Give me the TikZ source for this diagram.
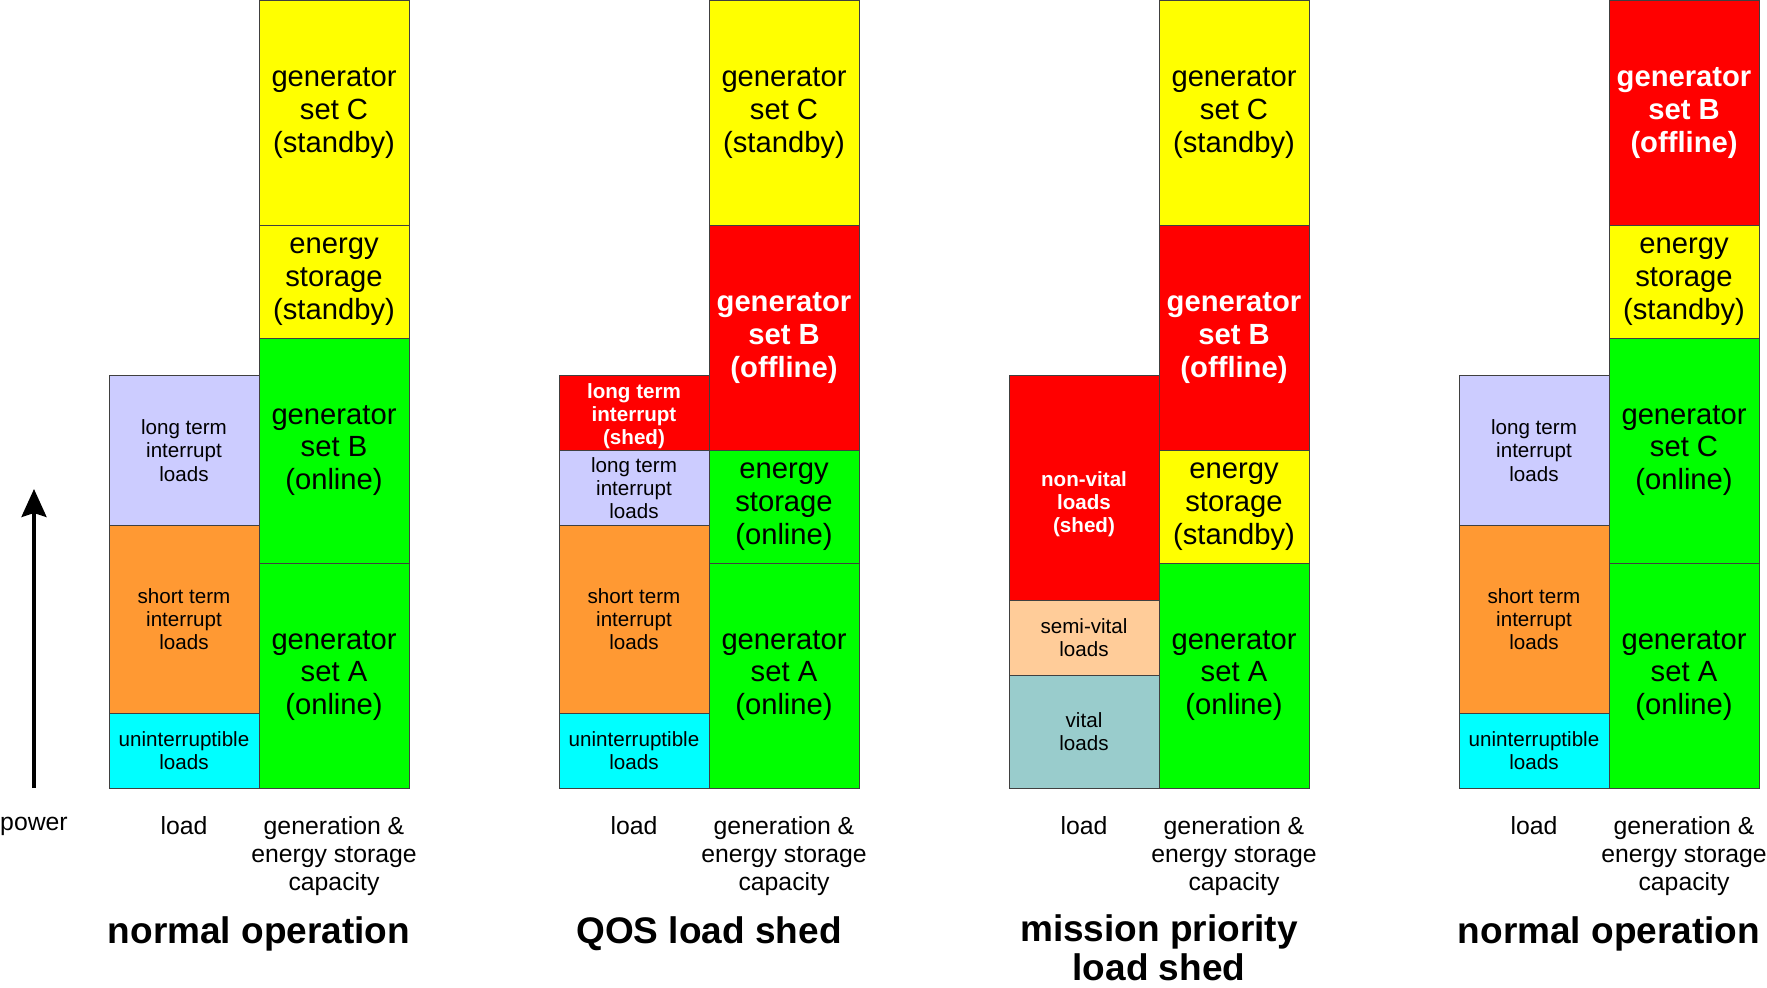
\documentclass[tikz,border=0pt]{standalone}
\usepackage{fontspec}
\setmainfont{Liberation Sans}
\usetikzlibrary{positioning,arrows.meta}

\definecolor{genon}{HTML}{00FF00}
\definecolor{stby}{HTML}{FFFF00}
\definecolor{offred}{HTML}{FF0000}
\definecolor{ltlav}{HTML}{CCCCFF}
\definecolor{storange}{HTML}{FF9933}
\definecolor{upscyan}{HTML}{00FFFF}
\definecolor{semipeach}{HTML}{FFCC99}
\definecolor{vitalteal}{HTML}{99CCCC}

\tikzset{
  blk/.style={draw=black!75, line width=0.5pt, minimum width=75pt,
    inner sep=0pt, outer sep=0pt, align=center},
  big/.style={blk, font=\fontsize{14.6}{16.3}\selectfont},
  sml/.style={blk, font=\fontsize{10.3}{11.6}\selectfont},
  bigoff/.style={blk, fill=offred, text=white, font=\fontsize{14.6}{16.3}\selectfont\bfseries},
  smloff/.style={blk, fill=offred, text=white, font=\fontsize{10.3}{11.4}\selectfont\bfseries},
  full/.style={minimum height=112.5pt},
  half/.style={minimum height=56.25pt},
  lbl/.style={align=center, inner sep=0pt, font=\fontsize{12.4}{13.8}\selectfont},
  ttl/.style={align=center, inner sep=0pt, font=\fontsize{18.5}{19.4}\selectfont\bfseries}
}

\begin{document}
\begin{tikzpicture}[x=0.5pt, y=-0.5pt]
  \useasboundingbox (0,0) rectangle (1767,987);

  % power axis
  \coordinate (pbot) at (34,788);
  \coordinate (ptop) at (34,489);
  \draw[line width=1.7pt, -{Stealth[length=14pt, width=12.5pt, inset=2pt]}] (pbot) -- (ptop);
  \node[lbl] (power) at (34,826) {power};

  % normal operation
  \node[sml, fill=upscyan, minimum height=37.5pt, anchor=south] (p1ups) at (184,788) {uninterruptible\\loads};
  \node[sml, fill=storange, minimum height=93.75pt, above=0pt of p1ups] (p1st) {short term\\interrupt\\loads};
  \node[sml, fill=ltlav, minimum height=75pt, above=0pt of p1st] (p1lt) {long term\\interrupt\\loads};
  \node[big, full, fill=genon, anchor=south] (p1gA) at (334,788) {generator\\set A\\(online)};
  \node[big, full, fill=genon, above=0pt of p1gA] (p1gB) {generator\\set B\\(online)};
  \node[big, half, fill=stby, above=0pt of p1gB] (p1es) {energy\\storage\\(standby)};
  \node[big, full, fill=stby, above=0pt of p1es] (p1gC) {generator\\set C\\(standby)};
  \node[lbl] (p1load) at (184,826) {load};
  \node[lbl] (p1cap) at (334,856) {generation \&\\energy storage\\capacity};
  \node[ttl] (p1ttl) at (259,934) {normal operation};

  % QOS load shed
  \node[sml, fill=upscyan, minimum height=37.5pt, anchor=south] (p2ups) at (634,788) {uninterruptible\\loads};
  \node[sml, fill=storange, minimum height=93.75pt, above=0pt of p2ups] (p2st) {short term\\interrupt\\loads};
  \node[sml, fill=ltlav, minimum height=37.5pt, above=0pt of p2st] (p2lt) {long term\\interrupt\\loads};
  \node[smloff, minimum height=37.5pt, above=0pt of p2lt] (p2shed) {};
  \node[smloff, draw=none, fill=none] (p2shedtxt) at ([yshift=-1.5pt]p2shed.center) {long term\\interrupt\\(shed)};
  \node[big, full, fill=genon, anchor=south] (p2gA) at (784,788) {generator\\set A\\(online)};
  \node[big, half, fill=genon, above=0pt of p2gA] (p2es) {energy\\storage\\(online)};
  \node[bigoff, full, above=0pt of p2es] (p2gB) {generator\\set B\\(offline)};
  \node[big, full, fill=stby, above=0pt of p2gB] (p2gC) {generator\\set C\\(standby)};
  \node[lbl] (p2load) at (634,826) {load};
  \node[lbl] (p2cap) at (784,856) {generation \&\\energy storage\\capacity};
  \node[ttl] (p2ttl) at (709,934) {QOS load shed};

  % mission priority load shed
  \node[sml, fill=vitalteal, half, anchor=south] (p3vit) at (1084,788) {vital\\loads};
  \node[sml, fill=semipeach, minimum height=37.5pt, above=0pt of p3vit] (p3semi) {semi-vital\\loads};
  \node[smloff, full, above=0pt of p3semi] (p3non) {};
  \node[smloff, draw=none, fill=none] (p3nontxt) at ([yshift=-8pt]p3non.center) {non-vital\\loads\\(shed)};
  \node[big, full, fill=genon, anchor=south] (p3gA) at (1234,788) {generator\\set A\\(online)};
  \node[big, half, fill=stby, above=0pt of p3gA] (p3es) {energy\\storage\\(standby)};
  \node[bigoff, full, above=0pt of p3es] (p3gB) {generator\\set B\\(offline)};
  \node[big, full, fill=stby, above=0pt of p3gB] (p3gC) {generator\\set C\\(standby)};
  \node[lbl] (p3load) at (1084,826) {load};
  \node[lbl] (p3cap) at (1234,856) {generation \&\\energy storage\\capacity};
  \node[ttl] (p3ttl) at (1159,948) {mission priority\\load shed};

  % normal operation again
  \node[sml, fill=upscyan, minimum height=37.5pt, anchor=south] (p4ups) at (1534,788) {uninterruptible\\loads};
  \node[sml, fill=storange, minimum height=93.75pt, above=0pt of p4ups] (p4st) {short term\\interrupt\\loads};
  \node[sml, fill=ltlav, minimum height=75pt, above=0pt of p4st] (p4lt) {long term\\interrupt\\loads};
  \node[big, full, fill=genon, anchor=south] (p4gA) at (1684,788) {generator\\set A\\(online)};
  \node[big, full, fill=genon, above=0pt of p4gA] (p4gC) {generator\\set C\\(online)};
  \node[big, half, fill=stby, above=0pt of p4gC] (p4es) {energy\\storage\\(standby)};
  \node[bigoff, full, above=0pt of p4es] (p4gB) {generator\\set B\\(offline)};
  \node[lbl] (p4load) at (1534,826) {load};
  \node[lbl] (p4cap) at (1684,856) {generation \&\\energy storage\\capacity};
  \node[ttl] (p4ttl) at (1609,934) {normal operation};
\end{tikzpicture}
\end{document}
